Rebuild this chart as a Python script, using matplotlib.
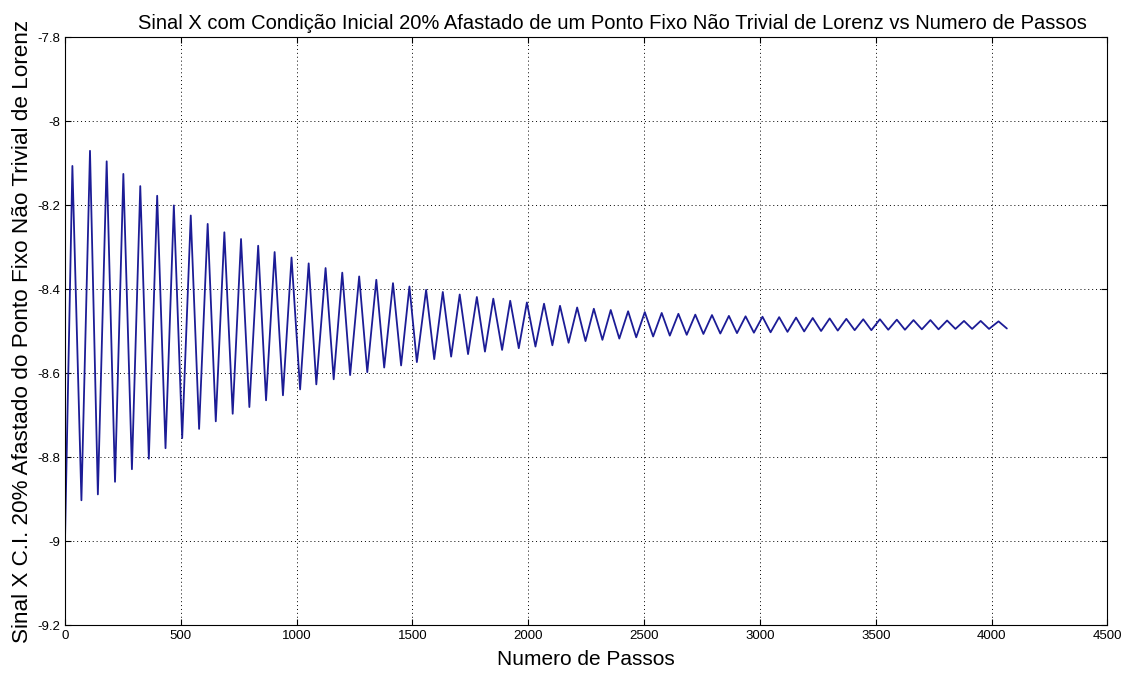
import numpy as np
import matplotlib
matplotlib.use("Agg")
import matplotlib.pyplot as plt

plt.rcParams['font.family'] = ['Liberation Sans', 'DejaVu Sans']

# starting point of the trajectory
x_start = [0]
y_start = [-9.0]

# local maxima of the X signal (step, value)
peak_steps = [32, 108, 180, 252, 325, 398, 470, 543, 616, 688,
              760, 834, 905, 978, 1052, 1125, 1197, 1270, 1344, 1416,
              1487, 1559, 1631, 1704, 1778, 1849, 1922, 1994, 2068, 2137,
              2211, 2283, 2356, 2431, 2503, 2576, 2648, 2721, 2793, 2866,
              2938, 3011, 3083, 3156, 3228, 3301, 3373, 3446, 3518, 3591,
              3663, 3736, 3808, 3881, 3953, 4030]
peak_vals = [-8.107, -8.071, -8.096, -8.126, -8.155, -8.178, -8.201, -8.225, -8.245, -8.265,
             -8.281, -8.297, -8.312, -8.325, -8.339, -8.350, -8.361, -8.370, -8.378, -8.386,
             -8.394, -8.402, -8.407, -8.413, -8.419, -8.423, -8.428, -8.432, -8.435, -8.440,
             -8.444, -8.447, -8.450, -8.453, -8.455, -8.457, -8.459, -8.461, -8.462, -8.464,
             -8.465, -8.466, -8.467, -8.468, -8.469, -8.470, -8.471, -8.472, -8.472, -8.473,
             -8.474, -8.474, -8.475, -8.476, -8.476, -8.477]

# local minima of the X signal (step, value)
trough_steps = [71, 142, 216, 289, 362, 434, 506, 579, 651, 724,
                796, 868, 941, 1015, 1085, 1160, 1231, 1305, 1378, 1451,
                1519, 1594, 1667, 1740, 1813, 1887, 1959, 2031, 2104, 2174,
                2247, 2320, 2393, 2466, 2539, 2611, 2684, 2756, 2829, 2901,
                2974, 3046, 3119, 3191, 3264, 3336, 3409, 3481, 3554, 3626,
                3699, 3771, 3844, 3916, 3989]
trough_vals = [-8.903, -8.889, -8.859, -8.829, -8.804, -8.779, -8.755, -8.733, -8.715, -8.697,
               -8.681, -8.665, -8.653, -8.639, -8.627, -8.615, -8.605, -8.598, -8.587, -8.582,
               -8.574, -8.567, -8.561, -8.555, -8.549, -8.545, -8.541, -8.537, -8.534, -8.528,
               -8.524, -8.521, -8.518, -8.515, -8.513, -8.511, -8.509, -8.507, -8.506, -8.505,
               -8.504, -8.503, -8.502, -8.501, -8.500, -8.499, -8.498, -8.498, -8.497, -8.497,
               -8.496, -8.496, -8.495, -8.495, -8.495]

# last sample
x_end = [4066]
y_end = [-8.494]

xs = np.array(x_start + peak_steps + trough_steps + x_end)
ys = np.array(y_start + peak_vals + trough_vals + y_end)
order = np.argsort(xs)
xs, ys = xs[order], ys[order]

fig = plt.figure(figsize=(11.3, 6.73), dpi=100)
ax = fig.add_axes([0.0575, 0.0713, 0.9225, 0.8737])
ax.plot(xs, ys, color='#1c1c96', linewidth=1.3,
        solid_joinstyle='round', solid_capstyle='round')

ax.set_xlim(0, 4500)
ax.set_ylim(-9.2, -7.8)
ax.set_xticks(np.arange(0, 4501, 500))
ax.set_yticks(np.arange(-9.2, -7.79, 0.2))
ax.set_yticklabels(['-9.2', '-9', '-8.8', '-8.6', '-8.4', '-8.2', '-8', '-7.8'])
ax.tick_params(direction='in', top=True, right=True, labelsize=9.5, length=4)
ax.grid(True, linestyle=(0, (1, 3)), color='black', linewidth=0.7)
for s in ax.spines.values():
    s.set_linewidth(0.8)

ax.set_title('Sinal X com Condição Inicial 20% Afastado de um Ponto Fixo Não Trivial de Lorenz vs Numero de Passos',
             fontsize=14.5, pad=6, x=0.525)
ax.set_xlabel('Numero de Passos', fontsize=15, labelpad=6)
ax.set_ylabel('Sinal X C.I. 20% Afastado do Ponto Fixo Não Trivial de Lorenz',
              fontsize=16.2, labelpad=3)

fig.savefig('out.png', dpi=100)
